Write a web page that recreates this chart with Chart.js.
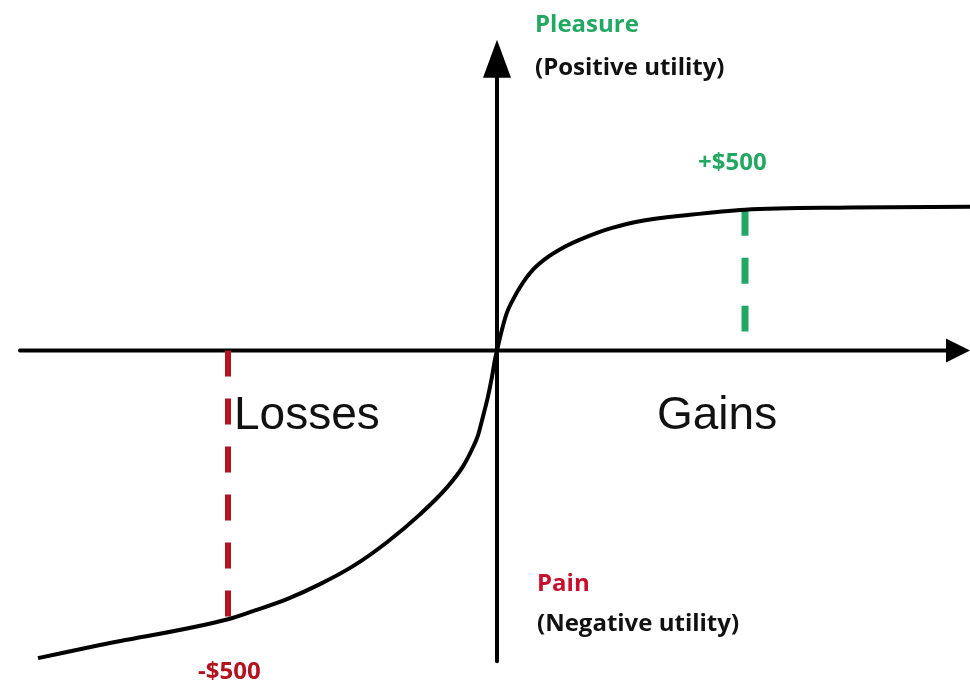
<!DOCTYPE html>
<html>
<head>
<meta charset="utf-8">
<script src="https://cdn.jsdelivr.net/npm/chart.js@4.4.1/dist/chart.umd.min.js"></script>
<style>
  body { margin: 0; background: #fff; }
  #wrap { width: 970px; height: 686px; position: relative; }
</style>
</head>
<body>
<div id="wrap"><canvas id="valueChart"></canvas></div>
<script>
// value function, gains/losses in $ vs. utility
const curveX = [-918, -794, -538, -488, -420, -354, -288, -220, -154, -100, -68, -48, -38, -28, -18, -10, -4, 0,
                10, 20, 32, 52, 72, 100, 132, 166, 200, 232, 280, 386, 496, 706, 946];
const curveY = [-102.7, -98.3, -89.7, -87, -83, -78, -72, -64, -54.7, -45.7, -38.7, -32.3, -28.3, -22, -15.3, -8.7, -3, 0,
                7, 12.7, 17, 22.7, 27, 31, 34.3, 37, 39.3, 41, 43, 45.3, 47, 47.7, 48];

// reference markers
const gainMarkX = 496;
const gainMarkY = [47, 6.3];
const lossMarkX = -538;
const lossMarkY = [0, -89.7];

const GREEN = '#22a862';
const RED = '#b3121f';

// arrows drawn along the zero lines
const axesPlugin = {
    id: 'axes',
    beforeDatasetsDraw(chart) {
        const ctx = chart.ctx;
        const xs = chart.scales.x, ys = chart.scales.y;
        const x0 = xs.getPixelForValue(0), y0 = ys.getPixelForValue(0);
        const xStart = xs.getPixelForValue(-954), xTip = xs.getPixelForValue(946);
        const yStart = ys.getPixelForValue(-103.7), yTip = ys.getPixelForValue(103.7);
        ctx.save();
        ctx.strokeStyle = '#000';
        ctx.fillStyle = '#000';
        ctx.lineWidth = 4;
        ctx.lineCap = 'round';
        ctx.beginPath();
        ctx.moveTo(xStart, y0);
        ctx.lineTo(xTip - 20, y0);
        ctx.moveTo(x0, yStart);
        ctx.lineTo(x0, yTip + 30);
        ctx.stroke();
        // arrow heads
        ctx.beginPath();
        ctx.moveTo(xTip, y0);
        ctx.lineTo(xTip - 24, y0 - 12);
        ctx.lineTo(xTip - 24, y0 + 12);
        ctx.closePath();
        ctx.fill();
        ctx.beginPath();
        ctx.moveTo(x0, yTip);
        ctx.lineTo(x0 - 14, yTip + 38);
        ctx.lineTo(x0 + 14, yTip + 38);
        ctx.closePath();
        ctx.fill();
        ctx.restore();
    }
};

const BOLD = 'bold 24px "Open Sans"';
const labels = [
    { text: 'Pleasure', x: 76, y: 106.3, color: GREEN, font: BOLD },
    { text: '(Positive utility)', x: 76, y: 92, color: '#111', font: BOLD },
    { text: '+$500', x: 402, y: 60.3, color: GREEN, font: BOLD },
    { text: 'Losses', x: -526, y: -26.3, color: '#111', font: '46px "Liberation Sans"' },
    { text: 'Gains', x: 320, y: -26.3, color: '#111', font: '46px "Liberation Sans"' },
    { text: 'Pain', x: 80, y: -80.3, color: '#c8102e', font: BOLD },
    { text: '(Negative utility)', x: 80, y: -93.7, color: '#111', font: BOLD },
    { text: '-$500', x: -598, y: -109.7, color: RED, font: BOLD }
];

const labelPlugin = {
    id: 'labels',
    afterDraw(chart) {
        const ctx = chart.ctx;
        ctx.save();
        ctx.textAlign = 'left';
        ctx.textBaseline = 'alphabetic';
        labels.forEach(l => {
            ctx.font = l.font;
            ctx.fillStyle = l.color;
            ctx.fillText(l.text, chart.scales.x.getPixelForValue(l.x), chart.scales.y.getPixelForValue(l.y));
        });
        ctx.restore();
    }
};

const toPoints = (xs, ys) => xs.map((x, i) => ({ x: x, y: ys[i] }));

new Chart(document.getElementById('valueChart'), {
    type: 'line',
    data: {
        datasets: [
            {
                data: toPoints(curveX, curveY),
                borderColor: '#000',
                borderWidth: 4,
                pointRadius: 0,
                cubicInterpolationMode: 'monotone',
                clip: false
            },
            {
                data: toPoints([gainMarkX, gainMarkX], gainMarkY),
                borderColor: GREEN,
                borderWidth: 7,
                borderDash: [26, 22],
                borderCapStyle: 'butt',
                pointRadius: 0
            },
            {
                data: toPoints([lossMarkX, lossMarkX], lossMarkY),
                borderColor: RED,
                borderWidth: 6,
                borderDash: [26, 22],
                borderCapStyle: 'butt',
                pointRadius: 0
            }
        ]
    },
    options: {
        responsive: true,
        maintainAspectRatio: false,
        animation: false,
        layout: { padding: 0 },
        plugins: { legend: { display: false }, tooltip: { enabled: false } },
        scales: {
            x: { type: 'linear', min: -994, max: 946, display: false },
            y: { type: 'linear', min: -112, max: 117, display: false }
        }
    },
    plugins: [axesPlugin, labelPlugin]
});
</script>
</body>
</html>
